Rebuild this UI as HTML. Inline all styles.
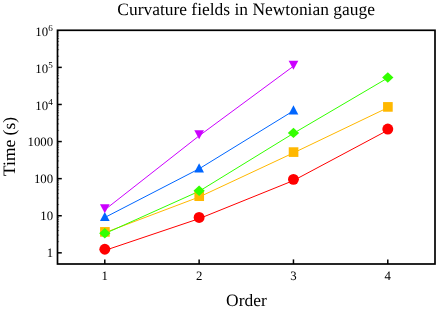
<!DOCTYPE html>
<html><head><meta charset="utf-8"><title>Curvature fields in Newtonian gauge</title>
<style>html,body{margin:0;padding:0;background:#fff;width:436px;height:310px;overflow:hidden}</style>
</head><body>
<svg width="436" height="310" viewBox="0 0 436 310" style="position:absolute;left:0;top:0;will-change:transform">
<rect x="0" y="0" width="436" height="310" fill="#fff"/>
<polyline points="104.80,250.45 199.13,218.65 293.46,180.55 387.79,130.25" fill="none" stroke="#ff0000" stroke-width="1.0"/>
<polyline points="104.80,232.70 199.13,197.00 293.46,152.90 387.79,107.70" fill="none" stroke="#ffb800" stroke-width="1.0"/>
<polyline points="104.80,233.65 199.13,191.25 293.46,133.35 387.79,77.95" fill="none" stroke="#33ff00" stroke-width="1.0"/>
<polyline points="104.80,217.50 199.13,168.80 293.46,110.80" fill="none" stroke="#0066ff" stroke-width="1.0"/>
<polyline points="104.80,209.80 199.13,135.80 293.46,66.20" fill="none" stroke="#cc00ff" stroke-width="1.0"/>
<circle cx="104.80" cy="249.25" r="5.45" fill="#ff0000"/>
<circle cx="199.13" cy="217.45" r="5.45" fill="#ff0000"/>
<circle cx="293.46" cy="179.35" r="5.45" fill="#ff0000"/>
<circle cx="387.79" cy="129.05" r="5.45" fill="#ff0000"/>
<rect x="100.08" y="227.08" width="9.64" height="9.64" fill="#ffb800"/>
<rect x="194.41" y="191.38" width="9.64" height="9.64" fill="#ffb800"/>
<rect x="288.74" y="147.28" width="9.64" height="9.64" fill="#ffb800"/>
<rect x="383.07" y="102.08" width="9.64" height="9.64" fill="#ffb800"/>
<polygon points="104.80,228.00 110.45,233.20 104.80,238.40 99.15,233.20" fill="#33ff00"/>
<polygon points="199.13,185.60 204.78,190.80 199.13,196.00 193.48,190.80" fill="#33ff00"/>
<polygon points="293.46,127.70 299.11,132.90 293.46,138.10 287.81,132.90" fill="#33ff00"/>
<polygon points="387.79,72.30 393.44,77.50 387.79,82.70 382.14,77.50" fill="#33ff00"/>
<polygon points="104.80,211.90 109.65,221.10 99.95,221.10" fill="#0066ff"/>
<polygon points="199.13,163.20 203.98,172.40 194.28,172.40" fill="#0066ff"/>
<polygon points="293.46,105.20 298.31,114.40 288.61,114.40" fill="#0066ff"/>
<polygon points="104.80,213.35 109.65,204.25 99.95,204.25" fill="#cc00ff"/>
<polygon points="199.13,139.35 203.98,130.25 194.28,130.25" fill="#cc00ff"/>
<polygon points="293.46,69.75 298.31,60.65 288.61,60.65" fill="#cc00ff"/>
<rect x="57.5" y="30.28" width="377.5" height="233.72" fill="none" stroke="#000" stroke-width="1.7"/>
<line x1="104.80" y1="264.0" x2="104.80" y2="259.4" stroke="#000" stroke-width="1.5"/>
<line x1="199.13" y1="264.0" x2="199.13" y2="259.4" stroke="#000" stroke-width="1.5"/>
<line x1="293.46" y1="264.0" x2="293.46" y2="259.4" stroke="#000" stroke-width="1.5"/>
<line x1="387.79" y1="264.0" x2="387.79" y2="259.4" stroke="#000" stroke-width="1.5"/>
<line x1="57.5" y1="252.83" x2="61.8" y2="252.83" stroke="#000" stroke-width="1.5"/>
<line x1="57.5" y1="215.74" x2="61.8" y2="215.74" stroke="#000" stroke-width="1.5"/>
<line x1="57.5" y1="178.65" x2="61.8" y2="178.65" stroke="#000" stroke-width="1.5"/>
<line x1="57.5" y1="141.56" x2="61.8" y2="141.56" stroke="#000" stroke-width="1.5"/>
<line x1="57.5" y1="104.47" x2="61.8" y2="104.47" stroke="#000" stroke-width="1.5"/>
<line x1="57.5" y1="67.38" x2="61.8" y2="67.38" stroke="#000" stroke-width="1.5"/>
<line x1="57.5" y1="241.66" x2="59.1" y2="241.66" stroke="#000" stroke-width="0.5"/>
<line x1="57.5" y1="235.13" x2="59.1" y2="235.13" stroke="#000" stroke-width="0.5"/>
<line x1="57.5" y1="230.50" x2="59.1" y2="230.50" stroke="#000" stroke-width="0.5"/>
<line x1="57.5" y1="226.91" x2="59.1" y2="226.91" stroke="#000" stroke-width="0.5"/>
<line x1="57.5" y1="223.97" x2="59.1" y2="223.97" stroke="#000" stroke-width="0.5"/>
<line x1="57.5" y1="221.49" x2="59.1" y2="221.49" stroke="#000" stroke-width="0.5"/>
<line x1="57.5" y1="219.33" x2="59.1" y2="219.33" stroke="#000" stroke-width="0.5"/>
<line x1="57.5" y1="217.44" x2="59.1" y2="217.44" stroke="#000" stroke-width="0.5"/>
<line x1="57.5" y1="204.57" x2="59.1" y2="204.57" stroke="#000" stroke-width="0.5"/>
<line x1="57.5" y1="198.04" x2="59.1" y2="198.04" stroke="#000" stroke-width="0.5"/>
<line x1="57.5" y1="193.41" x2="59.1" y2="193.41" stroke="#000" stroke-width="0.5"/>
<line x1="57.5" y1="189.82" x2="59.1" y2="189.82" stroke="#000" stroke-width="0.5"/>
<line x1="57.5" y1="186.88" x2="59.1" y2="186.88" stroke="#000" stroke-width="0.5"/>
<line x1="57.5" y1="184.40" x2="59.1" y2="184.40" stroke="#000" stroke-width="0.5"/>
<line x1="57.5" y1="182.24" x2="59.1" y2="182.24" stroke="#000" stroke-width="0.5"/>
<line x1="57.5" y1="180.35" x2="59.1" y2="180.35" stroke="#000" stroke-width="0.5"/>
<line x1="57.5" y1="167.48" x2="59.1" y2="167.48" stroke="#000" stroke-width="0.5"/>
<line x1="57.5" y1="160.95" x2="59.1" y2="160.95" stroke="#000" stroke-width="0.5"/>
<line x1="57.5" y1="156.32" x2="59.1" y2="156.32" stroke="#000" stroke-width="0.5"/>
<line x1="57.5" y1="152.73" x2="59.1" y2="152.73" stroke="#000" stroke-width="0.5"/>
<line x1="57.5" y1="149.79" x2="59.1" y2="149.79" stroke="#000" stroke-width="0.5"/>
<line x1="57.5" y1="147.31" x2="59.1" y2="147.31" stroke="#000" stroke-width="0.5"/>
<line x1="57.5" y1="145.15" x2="59.1" y2="145.15" stroke="#000" stroke-width="0.5"/>
<line x1="57.5" y1="143.26" x2="59.1" y2="143.26" stroke="#000" stroke-width="0.5"/>
<line x1="57.5" y1="130.39" x2="59.1" y2="130.39" stroke="#000" stroke-width="0.5"/>
<line x1="57.5" y1="123.86" x2="59.1" y2="123.86" stroke="#000" stroke-width="0.5"/>
<line x1="57.5" y1="119.23" x2="59.1" y2="119.23" stroke="#000" stroke-width="0.5"/>
<line x1="57.5" y1="115.64" x2="59.1" y2="115.64" stroke="#000" stroke-width="0.5"/>
<line x1="57.5" y1="112.70" x2="59.1" y2="112.70" stroke="#000" stroke-width="0.5"/>
<line x1="57.5" y1="110.22" x2="59.1" y2="110.22" stroke="#000" stroke-width="0.5"/>
<line x1="57.5" y1="108.06" x2="59.1" y2="108.06" stroke="#000" stroke-width="0.5"/>
<line x1="57.5" y1="106.17" x2="59.1" y2="106.17" stroke="#000" stroke-width="0.5"/>
<line x1="57.5" y1="93.30" x2="59.1" y2="93.30" stroke="#000" stroke-width="0.5"/>
<line x1="57.5" y1="86.77" x2="59.1" y2="86.77" stroke="#000" stroke-width="0.5"/>
<line x1="57.5" y1="82.14" x2="59.1" y2="82.14" stroke="#000" stroke-width="0.5"/>
<line x1="57.5" y1="78.55" x2="59.1" y2="78.55" stroke="#000" stroke-width="0.5"/>
<line x1="57.5" y1="75.61" x2="59.1" y2="75.61" stroke="#000" stroke-width="0.5"/>
<line x1="57.5" y1="73.13" x2="59.1" y2="73.13" stroke="#000" stroke-width="0.5"/>
<line x1="57.5" y1="70.97" x2="59.1" y2="70.97" stroke="#000" stroke-width="0.5"/>
<line x1="57.5" y1="69.08" x2="59.1" y2="69.08" stroke="#000" stroke-width="0.5"/>
<line x1="57.5" y1="56.21" x2="59.1" y2="56.21" stroke="#000" stroke-width="0.5"/>
<line x1="57.5" y1="49.68" x2="59.1" y2="49.68" stroke="#000" stroke-width="0.5"/>
<line x1="57.5" y1="45.05" x2="59.1" y2="45.05" stroke="#000" stroke-width="0.5"/>
<line x1="57.5" y1="41.46" x2="59.1" y2="41.46" stroke="#000" stroke-width="0.5"/>
<line x1="57.5" y1="38.52" x2="59.1" y2="38.52" stroke="#000" stroke-width="0.5"/>
<line x1="57.5" y1="36.04" x2="59.1" y2="36.04" stroke="#000" stroke-width="0.5"/>
<line x1="57.5" y1="33.88" x2="59.1" y2="33.88" stroke="#000" stroke-width="0.5"/>
<line x1="57.5" y1="31.99" x2="59.1" y2="31.99" stroke="#000" stroke-width="0.5"/>
<text x="246.1" y="15.4" text-anchor="middle" style="font-family:'Liberation Serif',serif;text-rendering:geometricPrecision;font-size:17.45px">Curvature fields in Newtonian gauge</text>
<text x="246.4" y="305.6" text-anchor="middle" style="font-family:'Liberation Serif',serif;text-rendering:geometricPrecision;font-size:17.45px">Order</text>
<text transform="translate(15.1,146.5) rotate(-90)" text-anchor="middle" style="font-family:'Liberation Serif',serif;text-rendering:geometricPrecision;font-size:17.45px">Time (s)</text>
<text x="104.80" y="280.3" text-anchor="middle" style="font-family:'Liberation Serif',serif;text-rendering:geometricPrecision;font-size:12.8px">1</text>
<text x="199.13" y="280.3" text-anchor="middle" style="font-family:'Liberation Serif',serif;text-rendering:geometricPrecision;font-size:12.8px">2</text>
<text x="293.46" y="280.3" text-anchor="middle" style="font-family:'Liberation Serif',serif;text-rendering:geometricPrecision;font-size:12.8px">3</text>
<text x="387.79" y="280.3" text-anchor="middle" style="font-family:'Liberation Serif',serif;text-rendering:geometricPrecision;font-size:12.8px">4</text>
<text x="53.1" y="257.33" text-anchor="end" style="font-family:'Liberation Serif',serif;text-rendering:geometricPrecision;font-size:12.8px">1</text>
<text x="53.1" y="220.24" text-anchor="end" style="font-family:'Liberation Serif',serif;text-rendering:geometricPrecision;font-size:12.8px">10</text>
<text x="53.1" y="183.15" text-anchor="end" style="font-family:'Liberation Serif',serif;text-rendering:geometricPrecision;font-size:12.8px">100</text>
<text x="53.1" y="146.06" text-anchor="end" style="font-family:'Liberation Serif',serif;text-rendering:geometricPrecision;font-size:12.8px">1000</text>
<text x="48.1" y="110.37" text-anchor="end" style="font-family:'Liberation Serif',serif;text-rendering:geometricPrecision;font-size:12.8px">10</text>
<text x="48.3" y="104.77" text-anchor="start" style="font-family:'Liberation Serif',serif;text-rendering:geometricPrecision;font-size:9.1px">4</text>
<text x="48.1" y="73.28" text-anchor="end" style="font-family:'Liberation Serif',serif;text-rendering:geometricPrecision;font-size:12.8px">10</text>
<text x="48.3" y="67.68" text-anchor="start" style="font-family:'Liberation Serif',serif;text-rendering:geometricPrecision;font-size:9.1px">5</text>
<text x="48.1" y="36.19" text-anchor="end" style="font-family:'Liberation Serif',serif;text-rendering:geometricPrecision;font-size:12.8px">10</text>
<text x="48.3" y="30.59" text-anchor="start" style="font-family:'Liberation Serif',serif;text-rendering:geometricPrecision;font-size:9.1px">6</text>
</svg>
</body></html>
